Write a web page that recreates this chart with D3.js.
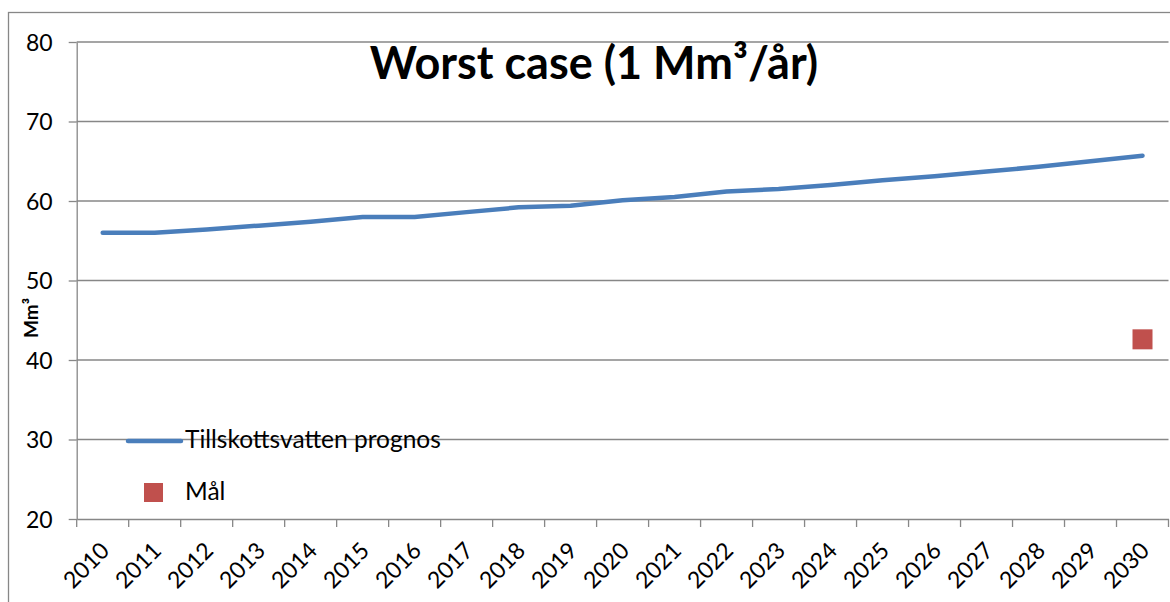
<!DOCTYPE html>
<html>
  <head>
    <meta charset="utf-8" />
    <title>Worst case</title>
    <style>
      body { margin: 0; background: #fff; font-family: Lato, 'Open Sans', sans-serif; }
      .grid line { stroke: #878787; stroke-width: 1.3px; }
      .axis path, .axis line { stroke: #878787; stroke-width: 1.3px; }
      .axis text { fill: #000; font-size: 23px; font-family: Lato, sans-serif; }
      .yax text { font-size: 23px; }
    </style>
    <script src="https://d3js.org/d3.v7.min.js"></script>
  </head>
  <body>
    <div id="chart"></div>
    <script>
      const years = ["2010","2011","2012","2013","2014","2015","2016","2017","2018","2019","2020",
                     "2021","2022","2023","2024","2025","2026","2027","2028","2029","2030"];
      const prognos = [56.0, 56.0, 56.4, 56.9, 57.4, 58.0, 58.0, 58.6, 59.2, 59.4, 60.1,
                       60.5, 61.2, 61.5, 62.0, 62.6, 63.1, 63.7, 64.3, 65.0, 65.7];
      const mal = [{ year: "2030", value: 42.6 }];
      const yTicks = [20, 30, 40, 50, 60, 70, 80];

      const W = 1170, H = 602;
      const margin = { top: 42, right: 2, bottom: 83, left: 76.7 };
      const width = 1168.5 - margin.left;
      const height = 519 - margin.top;

      const svg = d3.select("#chart").append("svg")
        .attr("width", W).attr("height", H);

      // outer chart border
      svg.append("rect")
        .attr("x", 8.5).attr("y", 12.5)
        .attr("width", W + 10).attr("height", H + 10)
        .attr("fill", "none").attr("stroke", "#878787").attr("stroke-width", 1.3);

      const g = svg.append("g").attr("transform", `translate(${margin.left},${margin.top})`);

      const x = d3.scaleBand().domain(years).range([0, width]);
      const y = d3.scaleLinear().domain([20, 80]).range([height, 0]);

      // horizontal gridlines
      g.append("g").attr("class", "grid")
        .selectAll("line").data(yTicks.filter(d => d > 20)).enter().append("line")
        .attr("x1", 0).attr("x2", width)
        .attr("y1", d => y(d)).attr("y2", d => y(d));

      // y axis
      const yAxis = g.append("g").attr("class", "axis yax")
        .call(d3.axisLeft(y).tickValues(yTicks).tickSize(8).tickPadding(16).tickSizeOuter(0));
      yAxis.selectAll("text").attr("dy", "0.36em");

      // x axis: ticks at band boundaries
      const xAxis = g.append("g").attr("class", "axis")
        .attr("transform", `translate(0,${height})`)
        .call(d3.axisBottom(x).tickSize(0).tickSizeOuter(0));
      xAxis.selectAll(".tick line").remove();
      const bounds = years.map(d => x(d)).concat([width]);
      xAxis.selectAll(".bound").data(bounds).enter().append("line")
        .attr("class", "bound")
        .attr("x1", d => d).attr("x2", d => d)
        .attr("y1", 0).attr("y2", 8);
      xAxis.selectAll(".tick text")
        .attr("text-anchor", "end")
        .attr("dx", 0).attr("dy", 0)
        .attr("transform", "translate(6,31) rotate(-45)");

      // prognos line
      const line = d3.line()
        .x((d, i) => x(years[i]) + x.bandwidth() / 2)
        .y(d => y(d));
      g.append("path").datum(prognos)
        .attr("d", line)
        .attr("fill", "none")
        .attr("stroke", "#4a7ebb")
        .attr("stroke-width", 4.5)
        .attr("stroke-linecap", "round")
        .attr("stroke-linejoin", "round");

      // Mål marker
      g.selectAll(".mal").data(mal).enter().append("rect")
        .attr("class", "mal")
        .attr("x", d => x(d.year) + x.bandwidth() / 2 - 10)
        .attr("y", d => y(d.value) - 10)
        .attr("width", 20).attr("height", 20)
        .attr("fill", "#c0504d");

      // title
      svg.append("text")
        .attr("x", 594).attr("y", 79)
        .attr("text-anchor", "middle")
        .attr("font-size", 45).attr("font-weight", "bold")
        .text("Worst case (1 Mm³/år)");

      // y axis title
      svg.append("text")
        .attr("transform", "translate(38,318) rotate(-90)")
        .attr("text-anchor", "middle")
        .attr("font-size", 19).attr("font-weight", "bold")
        .text("Mm³");

      // legend
      const legend = svg.append("g");
      legend.append("line")
        .attr("x1", 128).attr("x2", 181).attr("y1", 441).attr("y2", 441)
        .attr("stroke", "#4a7ebb").attr("stroke-width", 4.5).attr("stroke-linecap", "round");
      legend.append("text").attr("x", 185).attr("y", 448)
        .attr("font-size", 24.5).text("Tillskottsvatten prognos");
      legend.append("rect")
        .attr("x", 144).attr("y", 483).attr("width", 19).attr("height", 19)
        .attr("fill", "#c0504d");
      legend.append("text").attr("x", 185).attr("y", 500)
        .attr("font-size", 24.5).text("Mål");
    </script>
  </body>
</html>
